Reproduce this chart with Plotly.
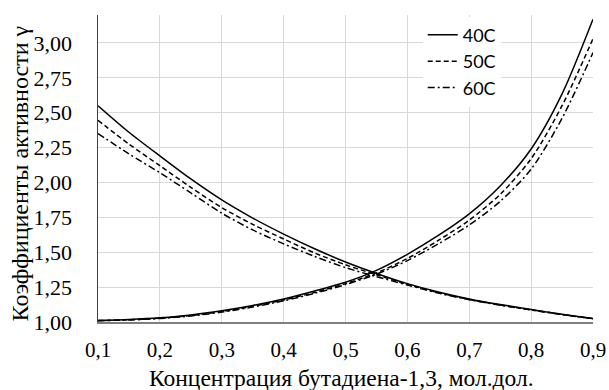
import plotly.graph_objects as go

# Mole fraction of butadiene-1,3
x_vals = [0.10, 0.15, 0.20, 0.25, 0.30, 0.35, 0.40, 0.45, 0.50,
          0.55, 0.60, 0.65, 0.70, 0.75, 0.80, 0.85, 0.90]

# Falling curves
fall_40 = [2.55, 2.36, 2.19, 2.025, 1.875, 1.745, 1.63, 1.525, 1.43,
           1.348, 1.275, 1.215, 1.165, 1.125, 1.09, 1.055, 1.025]
fall_50 = [2.445, 2.275, 2.12, 1.965, 1.82, 1.70, 1.595, 1.495, 1.41,
           1.338, 1.27, 1.21, 1.162, 1.122, 1.087, 1.054, 1.024]
fall_60 = [2.35, 2.205, 2.07, 1.925, 1.78, 1.66, 1.56, 1.47, 1.39,
           1.325, 1.265, 1.207, 1.16, 1.12, 1.086, 1.053, 1.023]

# Rising curves
rise_40 = [1.011, 1.018, 1.030, 1.050, 1.080, 1.118, 1.165, 1.222, 1.285,
           1.37, 1.485, 1.62, 1.775, 1.975, 2.24, 2.635, 3.17]
rise_50 = [1.010, 1.016, 1.027, 1.046, 1.075, 1.112, 1.158, 1.212, 1.275,
           1.352, 1.455, 1.585, 1.73, 1.915, 2.17, 2.55, 3.03]
rise_60 = [1.009, 1.015, 1.025, 1.043, 1.071, 1.107, 1.152, 1.205, 1.268,
           1.343, 1.44, 1.56, 1.695, 1.865, 2.095, 2.46, 2.93]

series_names = ["40C", "50C", "60C"]
x_ticks = [0.1, 0.2, 0.3, 0.4, 0.5, 0.6, 0.7, 0.8, 0.9]
y_ticks = [1.00, 1.25, 1.50, 1.75, 2.00, 2.25, 2.50, 2.75, 3.00]
x_title = "Концентрация бутадиена-1,3, мол.дол."
y_title = "Коэффициенты активности γ"

dashes = ["solid", "5px,3px", "7px,3px,2px,3px"]
falls = [fall_40, fall_50, fall_60]
rises = [rise_40, rise_50, rise_60]

fig = go.Figure()
for name, dash, yf, yr in zip(series_names, dashes, falls, rises):
    fig.add_trace(go.Scatter(x=x_vals, y=yf, mode="lines", name=name,
                             showlegend=True,
                             line=dict(color="black", width=1.5, dash=dash,
                                       shape="spline", smoothing=0.8)))
    fig.add_trace(go.Scatter(x=x_vals, y=yr, mode="lines", name=name,
                             showlegend=False,
                             line=dict(color="black", width=1.5, dash=dash,
                                       shape="spline", smoothing=0.8)))

serif = "Liberation Serif, Times New Roman, serif"
fig.update_layout(
    width=609, height=390,
    margin=dict(l=98, r=16, t=15, b=68),
    paper_bgcolor="white", plot_bgcolor="white",
    separators=", ",
    font=dict(family=serif, color="black", size=22),
    showlegend=True,
    legend=dict(x=0.656, y=0.995, xanchor="left", yanchor="top",
                bgcolor="rgba(255,255,255,1)", borderwidth=0,
                font=dict(family="Lato, sans-serif", size=18, color="black"),
                itemwidth=30, traceorder="normal"),
    xaxis=dict(range=[0.1, 0.9], tickvals=x_ticks, tickformat=".1f",
               showgrid=True, gridcolor="#d9d9d9", gridwidth=1,
               showline=True, linecolor="#7f7f7f", linewidth=2,
               zeroline=False, ticks="outside", ticklen=8,
               tickcolor="rgba(0,0,0,0)", automargin=False,
               ticklabeloverflow="allow",
               tickfont=dict(family=serif, size=21, color="black")),
    yaxis=dict(range=[1.0, 3.2], tickvals=y_ticks, tickformat=".2f",
               showgrid=True, gridcolor="#d9d9d9", gridwidth=1,
               showline=True, linecolor="#404040", linewidth=1.5,
               zeroline=False, ticks="outside", ticklen=20,
               tickcolor="rgba(0,0,0,0)", automargin=False,
               tickfont=dict(family=serif, size=22, color="black")),
    annotations=[
        dict(text=x_title, xref="paper", yref="paper", x=0.491, y=0,
             xanchor="center", yanchor="middle", yshift=-56, showarrow=False,
             font=dict(family=serif, size=23.5, color="black")),
        dict(text=y_title, xref="paper", yref="paper", x=0, y=0.484,
             xanchor="center", yanchor="middle", xshift=-78, textangle=-90,
             showarrow=False, font=dict(family=serif, size=24, color="black")),
    ],
)

# remove the default page margin so the 609x390 figure fills the window exactly
fig.write_html("out.html",
               config={"displayModeBar": False, "staticPlot": True},
               post_script="document.body.style.margin='0';document.body.style.overflow='hidden';")
